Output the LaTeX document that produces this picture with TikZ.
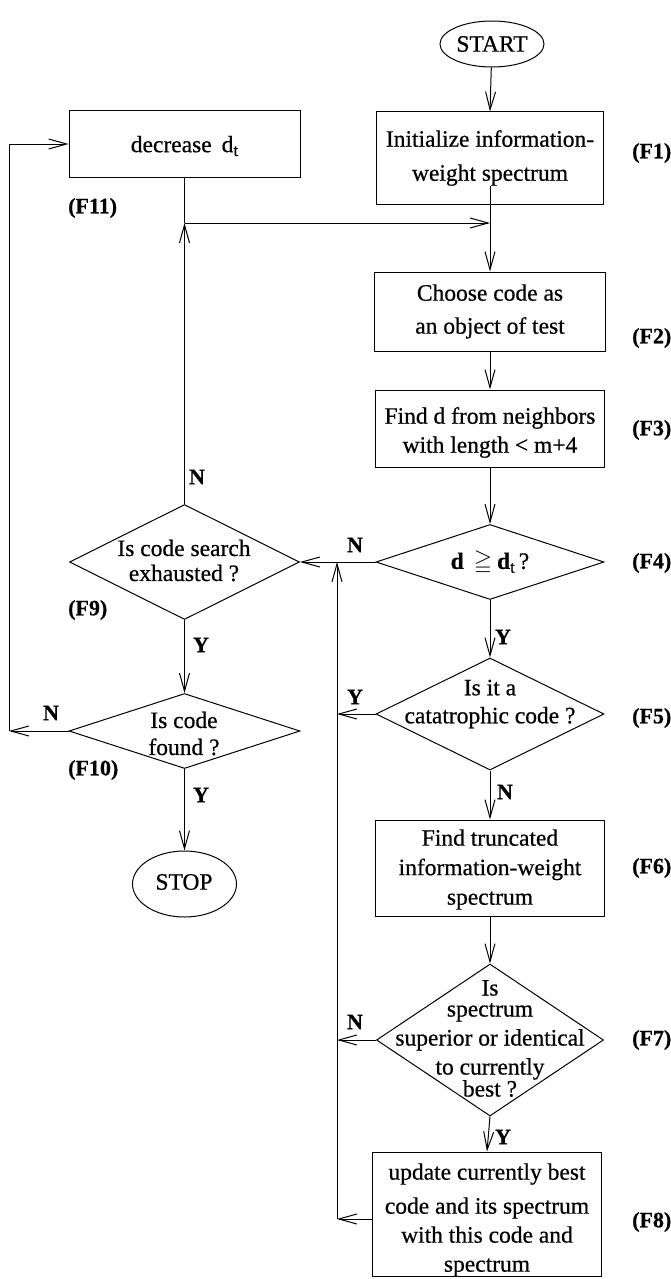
\documentclass[tikz,border=0pt]{standalone}
\usepackage{fontspec}
\usepackage{amssymb}
\setmainfont{Liberation Serif}[FakeBold=0.6]
\usetikzlibrary{shapes.geometric,arrows.meta,calc}
\newcommand{\subt}{\raisebox{-0.35ex}{\fontsize{17}{17}\selectfont t}}
\begin{document}
\begin{tikzpicture}[x=1pt,y=-1pt,
  box/.style={draw, rectangle, line width=1pt, inner sep=0pt},
  dia/.style={draw, diamond, line width=1pt, inner sep=0pt},
  oval/.style={draw, ellipse, line width=1pt, inner sep=0pt},
  txt/.style={inner sep=0pt, align=center, font=\fontsize{23.5}{27}\selectfont},
  lbl/.style={inner sep=0pt, font=\bfseries\fontsize{22}{26}\selectfont},
  arr/.style={-{Straight Barb[length=18pt,width=10pt]}, line width=1pt},
  ln/.style={line width=1pt}]
\useasboundingbox (0,0) rectangle (671,1279);
\fill[white] (0,0) rectangle (671,1279);

% shapes
\node[oval, minimum width=104pt, minimum height=46pt] (S) at (492,44) {};
\node[box, minimum width=227pt, minimum height=92pt] (F1) at (490,158) {};
\node[box, minimum width=231pt, minimum height=79pt] (F2) at (490,311.5) {};
\node[box, minimum width=229pt, minimum height=77pt] (F3) at (490,428.5) {};
\node[dia, minimum width=228pt, minimum height=75pt] (F4) at (490,562) {};
\node[dia, minimum width=228pt, minimum height=112pt] (F5) at (490,714) {};
\node[box, minimum width=229pt, minimum height=96pt] (F6) at (490,868) {};
\node[dia, minimum width=227pt, minimum height=152pt] (F7) at (490,1040) {};
\node[box, minimum width=229pt, minimum height=124pt] (F8) at (487,1214) {};
\node[box, minimum width=231pt, minimum height=67pt] (F11) at (184.5,144) {};
\node[dia, minimum width=230pt, minimum height=115pt] (F9) at (184.5,562) {};
\node[dia, minimum width=231pt, minimum height=75pt] (F10) at (184.5,731) {};
\node[oval, minimum width=104pt, minimum height=66pt] (E) at (184.5,884) {};

% texts
\node[txt] (tS) at (S) {START};
\node[txt] (t1) at (490,158) {Initialize information-\\[7pt]weight spectrum};
\node[txt] (t2) at (490,311.5) {Choose code as\\[6pt]an object of test};
\node[txt] (t3) at (490,432.5) {Find d from neighbors\\[2pt]with length {<} m+4};
\node[txt] (t4) at (490,563) {\textbf{d}\hspace{10pt}$\geqq$\hspace{5pt}\textbf{d}\subt\,?};
\node[txt] (t5) at (490,704) {Is it a\\[1pt]catatrophic code ?};
\node[txt] (t6) at (490,869.5) {Find truncated\\[2.5pt]information-weight\\[2.5pt]spectrum};
\node[txt] (t7) at (490,1038.5) {Is\\[-6pt]spectrum\\[2pt]superior or identical\\[2pt]to currently\\[-5pt]best ?};
\node[txt] (t8) at (487,1220) {update currently best\\[7pt]code and its spectrum\\[2pt]with this code and\\[2pt]spectrum};
\node[txt] (t11) at (184.5,146) {decrease\hspace{10pt}d\subt};
\node[txt] (t9) at (184,560.5) {Is code search\\[-2pt]exhausted ?};
\node[txt] (t10) at (184,733.5) {Is code\\found ?};
\node[txt] (tE) at (184,882) {STOP};

% F labels
\node[lbl, anchor=west] (L1) at (632,153) {(F1)};
\node[lbl, anchor=west] (L2) at (632,338) {(F2)};
\node[lbl, anchor=west] (L3) at (632,430) {(F3)};
\node[lbl, anchor=west] (L4) at (632,563) {(F4)};
\node[lbl, anchor=west] (L5) at (632,718) {(F5)};
\node[lbl, anchor=west] (L6) at (632,868) {(F6)};
\node[lbl, anchor=west] (L7) at (632,1040) {(F7)};
\node[lbl, anchor=west] (L8) at (632,1222) {(F8)};
\node[lbl, anchor=west] (L11) at (68,208) {(F11)};
\node[lbl, anchor=west] (L9) at (68,610) {(F9)};
\node[lbl, anchor=west] (L10) at (68,770) {(F10)};

% Y/N labels
\node[lbl] (n9) at (197,477) {N};
\node[lbl] (n4) at (355,545) {N};
\node[lbl] (y9) at (201,645) {Y};
\node[lbl] (n10) at (51,713) {N};
\node[lbl] (y10) at (201,795) {Y};
\node[lbl] (y4) at (503,637) {Y};
\node[lbl] (y5) at (355,697) {Y};
\node[lbl] (n5) at (505,792) {N};
\node[lbl] (n7) at (355,1022) {N};
\node[lbl] (y7) at (503,1137) {Y};

% helper coordinates
\coordinate (jL) at (184.5,223);
\coordinate (jC) at (337,562);
\coordinate (lb) at (9,0);
\coordinate (p8) at ($(F8.west)+(0,5)$);

% connectors
\draw[arr] (S) -- (F1.north);
\draw[arr] ($(F1.south)+(0,-19)$) -- (F2.north);
\draw[ln] (F11.south) -- (jL);
\draw[arr] (jL) -- (F1.south |- jL);
\draw[arr] (F9.north) -- (jL);
\draw[arr] (F2.south) -- (F3.north);
\draw[arr] (F3.south) -- (F4.north);
\draw[ln] (F4.west) -- (jC);
\draw[arr] (jC) -- (F9.east);
\draw[arr] (F4.south) -- (F5.north);
\draw[arr] (F5.south) -- (F6.north);
\draw[arr] (F6.south) -- (F7.north);
\draw[arr] (F7.south) -- (F8.north);
\draw[arr] (F5.west) -- (F5.west -| jC);
\draw[arr] (F7.west) -- (F7.west -| jC);
\draw[arr] (p8) -- (p8 -| jC);
\draw[arr] (p8 -| jC) -- (jC);
\draw[arr] (F9.south) -- (F10.north);
\draw[arr] (F10.south) -- (E.north);
\draw[arr] (F10.west) -- (F10.west -| lb);
\draw[arr] (F10.west -| lb) -- (F11.west -| lb) -- (F11.west);
\end{tikzpicture}
\end{document}
